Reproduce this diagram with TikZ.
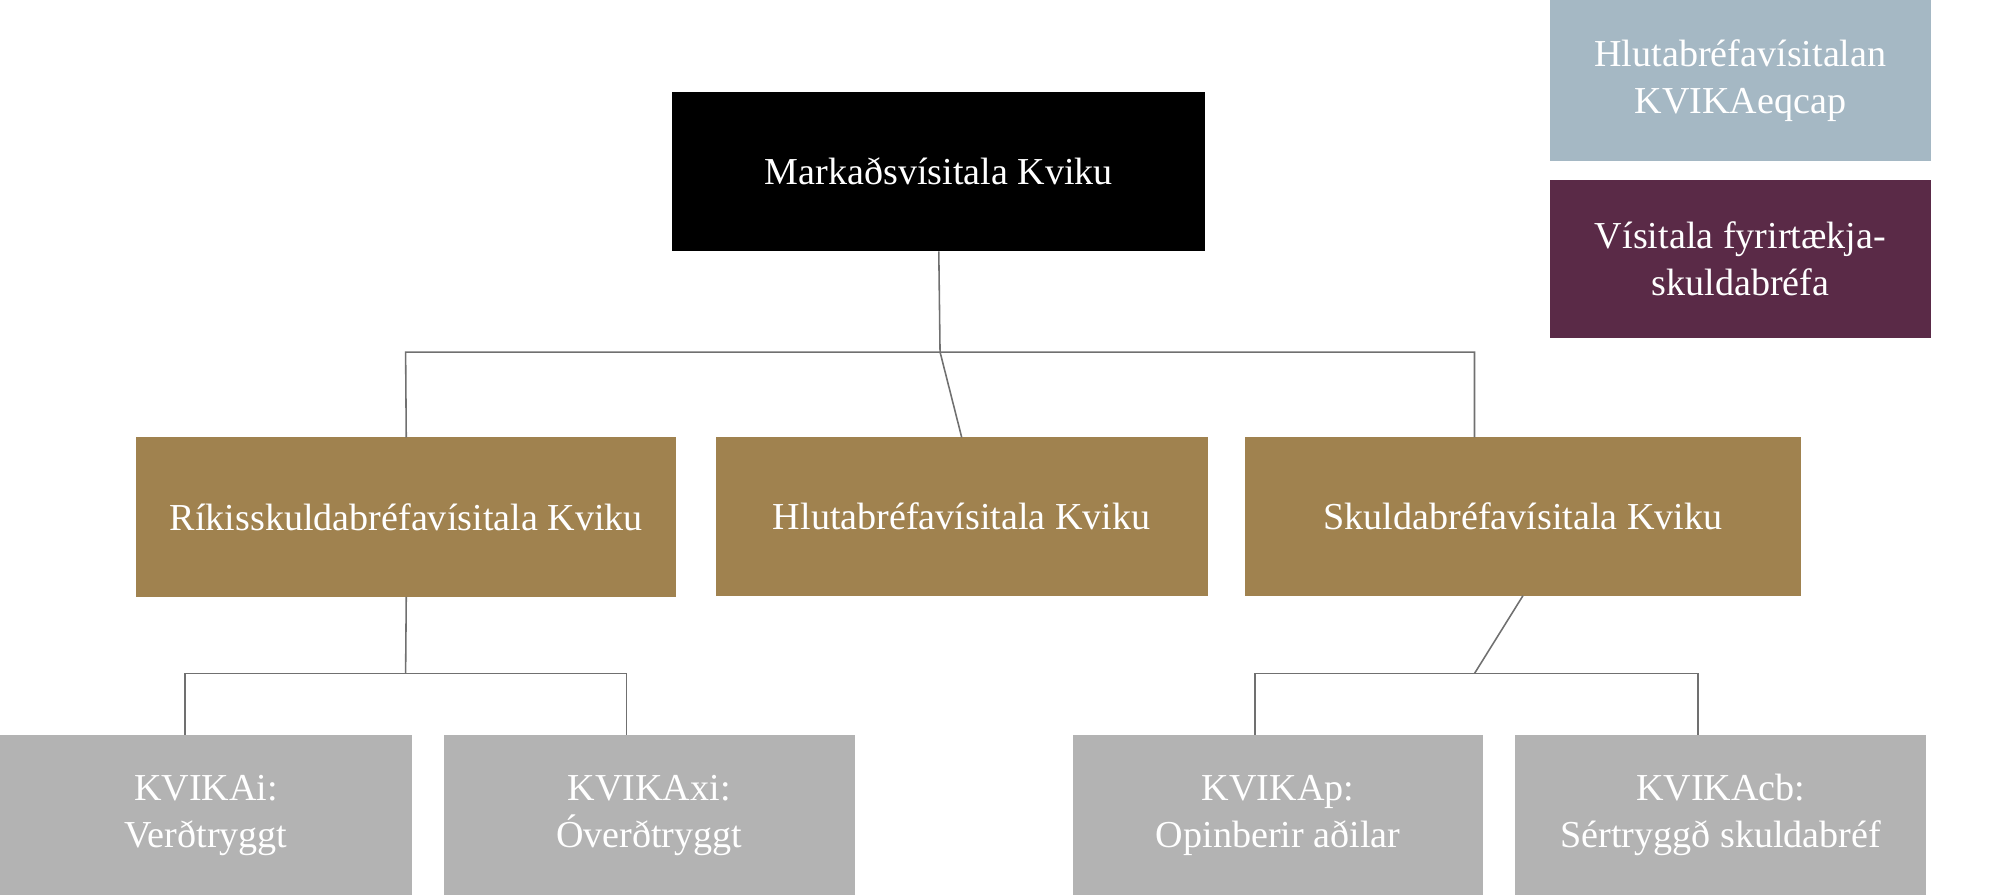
\documentclass[tikz,border=0pt]{standalone}
\usepackage{fontspec}
\setmainfont{Liberation Serif}
\definecolor{brownb}{HTML}{A0824F}
\definecolor{greyb}{HTML}{B3B3B3}
\definecolor{blueb}{HTML}{A5B8C4}
\definecolor{purpb}{HTML}{5A2A47}
\definecolor{linec}{HTML}{707070}
\tikzset{
 box/.style={anchor=south west,inner sep=0pt,text=white,align=center,font=\fontsize{17}{21}\selectfont},
 conn/.style={draw=linec,line width=0.7pt}
}
\newcommand{\bx}[7]{\fill[#6] (#2,-#5) rectangle (#3,-#4); \node[align=center,text=white,font=\fontsize{17}{21}\selectfont] (#1) at ({(#2+#3)/2},{-(#4+#5)/2}) {#7}; \coordinate (#1t) at ({(#2+#3)/2},-#4); \coordinate (#1b) at ({(#2+#3)/2},-#5);}
\begin{document}
\begin{tikzpicture}[x=0.02cm,y=0.02cm]
\useasboundingbox (0,-702) rectangle (1568,0);
\bx{top}{527}{945}{72}{197}{black}{Markaðsvísitala Kviku}
\bx{eq}{1215}{1514}{0}{126}{blueb}{Hlutabréfavísitalan\\KVIKAeqcap}
\bx{corp}{1215}{1514}{141}{265}{purpb}{Vísitala fyrirtækja-\\skuldabréfa}
\bx{rik}{107}{530}{343}{468}{brownb}{Ríkisskuldabréfavísitala Kviku}
\bx{hlu}{561}{947}{343}{467}{brownb}{Hlutabréfavísitala Kviku}
\bx{sku}{976}{1412}{343}{467}{brownb}{Skuldabréfavísitala Kviku}
\bx{ki}{0}{323}{576}{702}{greyb}{KVIKAi:\\Verðtryggt}
\bx{kxi}{348}{670}{576}{702}{greyb}{KVIKAxi:\\Óverðtryggt}
\bx{kp}{841}{1163}{576}{702}{greyb}{KVIKAp:\\Opinberir aðilar}
\bx{kcb}{1188}{1510}{576}{702}{greyb}{KVIKAcb:\\Sértryggð skuldabréf}
% connectors
\draw[conn] (topb) -- (737,-276);
\draw[conn] (rikt) -- (318,-276) -- (1156,-276) -- (1156,-343);
\draw[conn] (hlut) -- (737,-276);
\draw[conn] (rikb) -- (318,-528);
\draw[conn] (145,-576) -- (145,-528) -- (491,-528) -- (491,-576);
\draw[conn] (skub) -- (1156,-528);
\draw[conn] (984,-576) -- (984,-528) -- (1331,-528) -- (1331,-576);
\end{tikzpicture}
\end{document}
